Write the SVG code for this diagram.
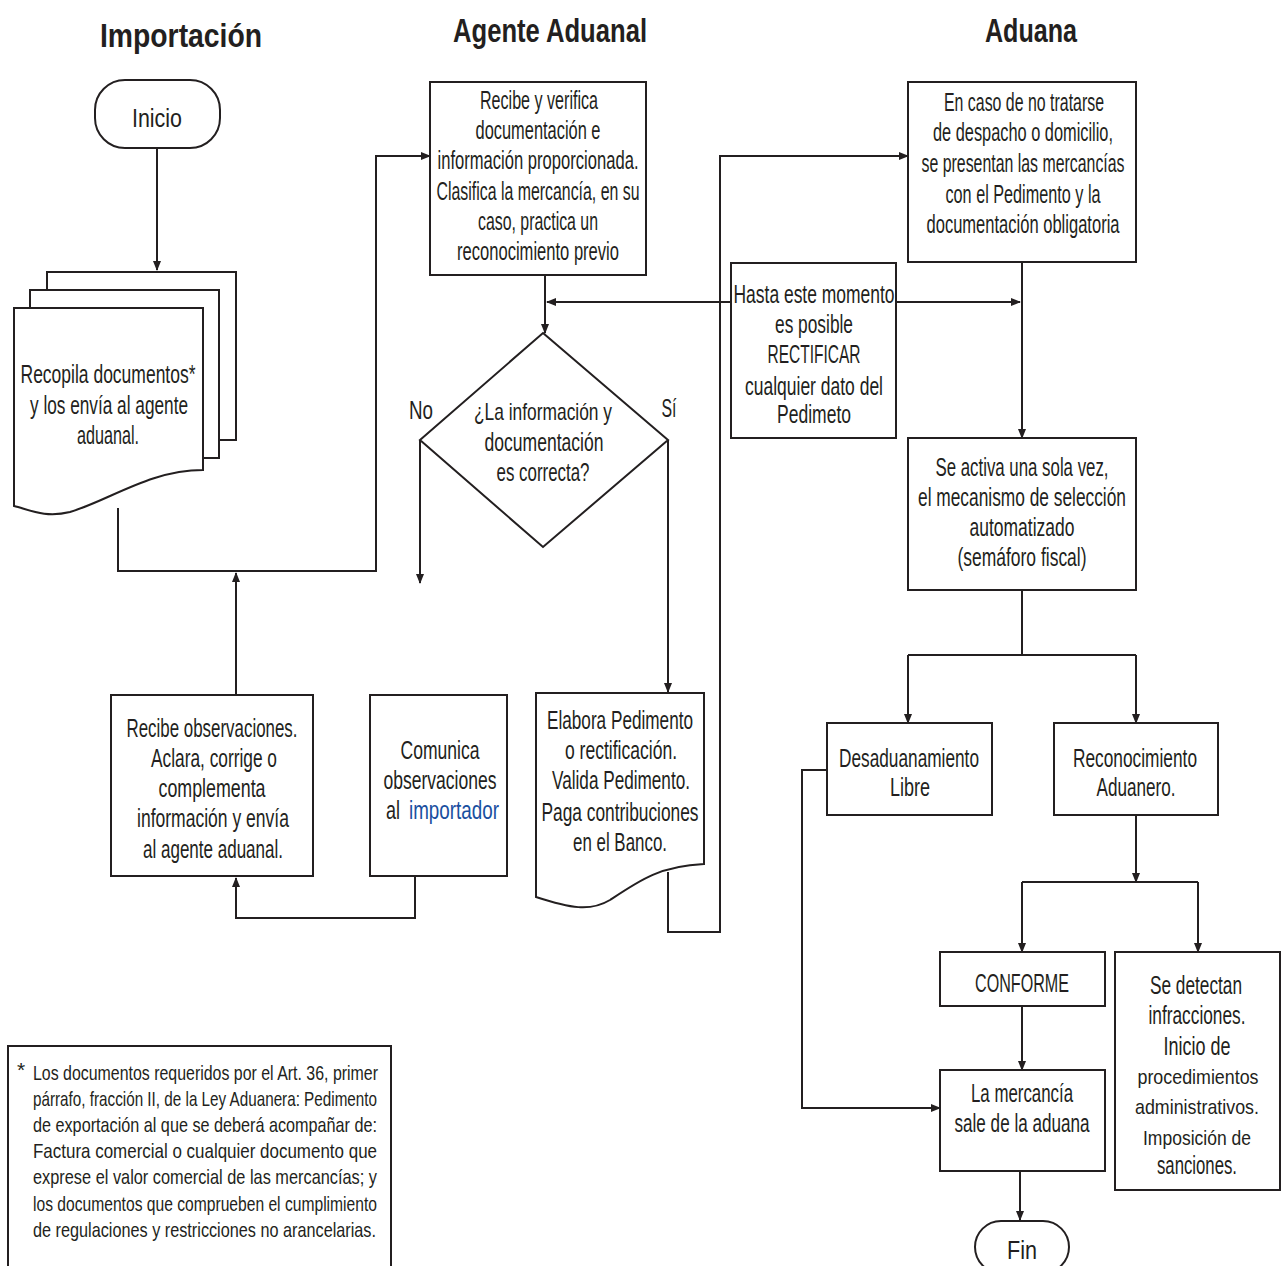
<svg xmlns="http://www.w3.org/2000/svg" width="1287" height="1266" viewBox="0 0 1287 1266">
<style>
.n{fill:#fff;stroke:#231f20;stroke-width:2}
.c{fill:none;stroke:#231f20;stroke-width:2}
text{font-family:"Liberation Sans",Arial,sans-serif;fill:#231f20;text-anchor:middle;font-size:25px}
.h{font-size:34px;font-weight:bold}
.nt{font-size:21px;text-anchor:start}
.s{font-size:21px}
.blue{fill:#1a4fa0}
</style>
<defs>
<marker id="ah" markerWidth="10" markerHeight="8" refX="9" refY="4" orient="auto" markerUnits="userSpaceOnUse"><path d="M0,0 L10,4 L0,8 Z" fill="#231f20"/></marker>
</defs>
<rect width="1287" height="1266" fill="#fff"/>
<g id="headers">
<text class="h" x="181" y="47" textLength="162" lengthAdjust="spacingAndGlyphs">Importación</text>
<text class="h" x="550" y="42" textLength="194" lengthAdjust="spacingAndGlyphs">Agente Aduanal</text>
<text class="h" x="1031" y="42" textLength="92" lengthAdjust="spacingAndGlyphs">Aduana</text>
</g>
<g id="connectors" class="c">
<path d="M157,148 V270" marker-end="url(#ah)"/>
<path d="M118,508 V571 H376 V156 H430" marker-end="url(#ah)"/>
<path d="M236,695 V573" marker-end="url(#ah)"/>
<path d="M415,876 V918 H236 V878" marker-end="url(#ah)"/>
<path d="M545,275 V333" marker-end="url(#ah)"/>
<path d="M731,302 H547" marker-end="url(#ah)"/>
<path d="M896,302 H1020" marker-end="url(#ah)"/>
<path d="M420,440 V583" marker-end="url(#ah)"/>
<path d="M668,440 V692" marker-end="url(#ah)"/>
<path d="M668,872 V932 H720 V156 H908" marker-end="url(#ah)"/>
<path d="M1022,262 V438" marker-end="url(#ah)"/>
<path d="M1022,590 V655 M908,655 H1136"/>
<path d="M908,655 V723" marker-end="url(#ah)"/>
<path d="M1136,655 V723" marker-end="url(#ah)"/>
<path d="M827,770 H802 V1108 H940" marker-end="url(#ah)"/>
<path d="M1136,815 V882" marker-end="url(#ah)"/>
<path d="M1022,882 H1198"/>
<path d="M1022,882 V952" marker-end="url(#ah)"/>
<path d="M1198,882 V952" marker-end="url(#ah)"/>
<path d="M1022,1006 V1070" marker-end="url(#ah)"/>
<path d="M1020,1171 V1220" marker-end="url(#ah)"/>
</g>
<g id="inicio">
<rect class="n" x="95" y="80" width="125" height="68" rx="30"/>
<text x="157" y="127" font-size="31" textLength="50" lengthAdjust="spacingAndGlyphs">Inicio</text>
</g>
<g id="recopila">
<path class="n" d="M47,290 V272 H236 V440 H219"/>
<path class="n" d="M30,308 V290 H219 V458 H203"/>
<path class="n" d="M14,308 H203 V470 C150,470 110,500 70,512 C45,518 30,510 14,506 Z"/>
<text x="108" y="383" textLength="175" lengthAdjust="spacingAndGlyphs">Recopila documentos*</text>
<text x="109" y="414" textLength="158" lengthAdjust="spacingAndGlyphs">y los envía al agente</text>
<text x="108" y="444" textLength="62" lengthAdjust="spacingAndGlyphs">aduanal.</text>
</g>
<g id="recibe-verifica">
<rect class="n" x="430" y="82" width="216" height="193"/>
<text x="539" y="109" textLength="118" lengthAdjust="spacingAndGlyphs">Recibe y verifica</text>
<text x="538" y="139" textLength="125" lengthAdjust="spacingAndGlyphs">documentación e</text>
<text x="538" y="169" textLength="201" lengthAdjust="spacingAndGlyphs">información proporcionada.</text>
<text x="538" y="200" textLength="203" lengthAdjust="spacingAndGlyphs">Clasifica la mercancía, en su</text>
<text x="538" y="230" textLength="120" lengthAdjust="spacingAndGlyphs">caso, practica un</text>
<text x="538" y="260" textLength="162" lengthAdjust="spacingAndGlyphs">reconocimiento previo</text>
</g>
<g id="decision">
<path class="n" d="M543,333 L668,440 L543,547 L420,440 Z"/>
<text class="s" x="543" y="420" font-size="23" textLength="138" lengthAdjust="spacingAndGlyphs" style="font-size:24px">¿La información y</text>
<text x="544" y="451" textLength="119" lengthAdjust="spacingAndGlyphs">documentación</text>
<text x="543" y="481" textLength="93" lengthAdjust="spacingAndGlyphs">es correcta?</text>
<text x="421" y="419" textLength="24" lengthAdjust="spacingAndGlyphs">No</text>
<text x="669" y="417" textLength="15" lengthAdjust="spacingAndGlyphs">Sí</text>
</g>
<g id="hasta">
<rect class="n" x="731" y="263" width="165" height="175"/>
<text x="814" y="303" textLength="161" lengthAdjust="spacingAndGlyphs">Hasta este momento</text>
<text x="814" y="333" textLength="78" lengthAdjust="spacingAndGlyphs">es posible</text>
<text x="814" y="363" textLength="93" lengthAdjust="spacingAndGlyphs">RECTIFICAR</text>
<text x="814" y="395" textLength="138" lengthAdjust="spacingAndGlyphs">cualquier dato del</text>
<text x="814" y="423" textLength="74" lengthAdjust="spacingAndGlyphs">Pedimeto</text>
</g>
<g id="presentan">
<rect class="n" x="908" y="82" width="228" height="180"/>
<text x="1024" y="111" textLength="160" lengthAdjust="spacingAndGlyphs">En caso de no tratarse</text>
<text x="1023" y="141" textLength="180" lengthAdjust="spacingAndGlyphs">de despacho o domicilio,</text>
<text x="1023" y="172" textLength="203" lengthAdjust="spacingAndGlyphs">se presentan las mercancías</text>
<text x="1023" y="203" textLength="155" lengthAdjust="spacingAndGlyphs">con el Pedimento y la</text>
<text x="1023" y="233" textLength="193" lengthAdjust="spacingAndGlyphs">documentación obligatoria</text>
</g>
<g id="semaforo">
<rect class="n" x="908" y="438" width="228" height="152"/>
<text x="1022" y="476" textLength="173" lengthAdjust="spacingAndGlyphs">Se activa una sola vez,</text>
<text x="1022" y="506" textLength="208" lengthAdjust="spacingAndGlyphs">el mecanismo de selección</text>
<text x="1022" y="536" textLength="105" lengthAdjust="spacingAndGlyphs">automatizado</text>
<text x="1022" y="566" textLength="129" lengthAdjust="spacingAndGlyphs">(semáforo fiscal)</text>
</g>
<g id="recibe-obs">
<rect class="n" x="111" y="695" width="202" height="181"/>
<text x="212" y="737" textLength="171" lengthAdjust="spacingAndGlyphs">Recibe observaciones.</text>
<text x="214" y="767" textLength="126" lengthAdjust="spacingAndGlyphs">Aclara, corrige o</text>
<text x="212" y="797" textLength="107" lengthAdjust="spacingAndGlyphs">complementa</text>
<text x="213" y="827" textLength="152" lengthAdjust="spacingAndGlyphs">información y envía</text>
<text x="213" y="858" textLength="140" lengthAdjust="spacingAndGlyphs">al agente aduanal.</text>
</g>
<g id="comunica">
<rect class="n" x="370" y="695" width="137" height="181"/>
<text x="440" y="759" textLength="79" lengthAdjust="spacingAndGlyphs">Comunica</text>
<text x="440" y="789" textLength="113" lengthAdjust="spacingAndGlyphs">observaciones</text>
<text x="400" y="819" textLength="14" lengthAdjust="spacingAndGlyphs" style="text-anchor:end">al</text>
<text class="blue" x="454" y="819" textLength="90" lengthAdjust="spacingAndGlyphs">importador</text>
</g>
<g id="elabora">
<path class="n" d="M536,693 H704 V864 C660,866 640,880 610,900 C590,912 570,908 536,897 Z"/>
<text x="620" y="729" textLength="146" lengthAdjust="spacingAndGlyphs">Elabora Pedimento</text>
<text x="621" y="759" textLength="112" lengthAdjust="spacingAndGlyphs">o rectificación.</text>
<text x="621" y="789" textLength="138" lengthAdjust="spacingAndGlyphs">Valida Pedimento.</text>
<text x="620" y="821" textLength="157" lengthAdjust="spacingAndGlyphs">Paga contribuciones</text>
<text x="620" y="851" textLength="94" lengthAdjust="spacingAndGlyphs">en el Banco.</text>
</g>
<g id="desaduanamiento">
<rect class="n" x="827" y="723" width="165" height="92"/>
<text x="909" y="767" textLength="140" lengthAdjust="spacingAndGlyphs">Desaduanamiento</text>
<text x="910" y="796" textLength="40" lengthAdjust="spacingAndGlyphs">Libre</text>
</g>
<g id="reconocimiento">
<rect class="n" x="1054" y="723" width="164" height="92"/>
<text x="1135" y="767" textLength="124" lengthAdjust="spacingAndGlyphs">Reconocimiento</text>
<text x="1136" y="796" textLength="79" lengthAdjust="spacingAndGlyphs">Aduanero.</text>
</g>
<g id="conforme">
<rect class="n" x="940" y="952" width="165" height="54"/>
<text x="1022" y="992" textLength="94" lengthAdjust="spacingAndGlyphs">CONFORME</text>
</g>
<g id="infracciones">
<rect class="n" x="1115" y="952" width="165" height="238"/>
<text x="1196" y="994" textLength="92" lengthAdjust="spacingAndGlyphs">Se detectan</text>
<text x="1197" y="1024" textLength="97" lengthAdjust="spacingAndGlyphs">infracciones.</text>
<text x="1197" y="1055" textLength="67" lengthAdjust="spacingAndGlyphs">Inicio de</text>
<text class="s" x="1198" y="1084" textLength="121" lengthAdjust="spacingAndGlyphs">procedimientos</text>
<text class="s" x="1197" y="1114" textLength="124" lengthAdjust="spacingAndGlyphs">administrativos.</text>
<text class="s" x="1197" y="1145" textLength="108" lengthAdjust="spacingAndGlyphs">Imposición de</text>
<text x="1197" y="1174" textLength="80" lengthAdjust="spacingAndGlyphs">sanciones.</text>
</g>
<g id="sale">
<rect class="n" x="940" y="1070" width="165" height="101"/>
<text x="1022" y="1102" textLength="102" lengthAdjust="spacingAndGlyphs">La mercancía</text>
<text x="1022" y="1132" textLength="135" lengthAdjust="spacingAndGlyphs">sale de la aduana</text>
</g>
<g id="fin">
<rect class="n" x="975" y="1221" width="94" height="52" rx="26"/>
<text x="1022" y="1259" font-size="34" textLength="30" lengthAdjust="spacingAndGlyphs">Fin</text>
</g>
<g id="nota">
<path class="n" d="M8,1266 V1046 H391 V1266"/>
<text class="nt" x="17" y="1077">*</text>
<text class="nt" x="33" y="1080" textLength="345" lengthAdjust="spacingAndGlyphs">Los documentos requeridos por el Art. 36, primer</text>
<text class="nt" x="33" y="1106" textLength="344" lengthAdjust="spacingAndGlyphs">párrafo, fracción II, de la Ley Aduanera: Pedimento</text>
<text class="nt" x="33" y="1132" textLength="344" lengthAdjust="spacingAndGlyphs">de exportación al que se deberá acompañar de:</text>
<text class="nt" x="33" y="1158" textLength="344" lengthAdjust="spacingAndGlyphs">Factura comercial o cualquier documento que</text>
<text class="nt" x="33" y="1184" textLength="344" lengthAdjust="spacingAndGlyphs">exprese el valor  comercial de las mercancías; y</text>
<text class="nt" x="33" y="1211" textLength="344" lengthAdjust="spacingAndGlyphs">los documentos que comprueben el cumplimiento</text>
<text class="nt" x="33" y="1237" textLength="343" lengthAdjust="spacingAndGlyphs">de regulaciones y restricciones no arancelarias.</text>
</g>
</svg>
